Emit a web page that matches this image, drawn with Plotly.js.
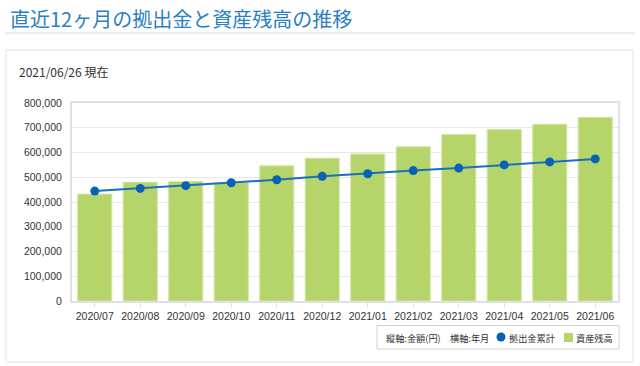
<!DOCTYPE html>
<html><head><meta charset="utf-8">
<script src="https://cdn.plot.ly/plotly-3.0.1.min.js"></script>
<style>html,body{margin:0;padding:0;background:#fff}#c{width:640px;height:366px}</style>
</head><body><div id="c"></div>
<script>
const months = ["2020/07","2020/08","2020/09","2020/10","2020/11","2020/12","2021/01","2021/02","2021/03","2021/04","2021/05","2021/06"];
const assetBalance = [432000,480000,483000,479000,546000,577000,594000,623000,673000,693000,714000,742000];
const contributionTotal = [444000,455000,466000,478000,490000,504000,514000,527000,537000,550000,562000,574000];
const yTicks = [0,100000,200000,300000,400000,500000,600000,700000,800000];
const titleText = "直近12ヶ月の拠出金と資産残高の推移";
const dateText = "2021/06/26 現在";
const axisNoteY = "縦軸:金額(円)";
const axisNoteX = "横軸:年月";
const lineName = "拠出金累計";
const barName = "資産残高";

const jp = '"Noto Sans CJK JP", "Liberation Sans", sans-serif';
const num = '"Liberation Sans", Arial, sans-serif';
const lineColor = '#1a6fbf', markerColor = '#0a62b4', barColor = '#b5d46a';

// plot area in pixels
const L = 72, R = 618, T = 103, B = 301;
const px = X => (X - L) / (R - L);
const py = Y => (B - Y) / (B - T);

const traces = [
  {type:'bar', name:barName, x:months, y:assetBalance,
   marker:{color:barColor, line:{color:'#d3e6a6', width:1}}},
  {type:'scatter', mode:'lines+markers', name:lineName, x:months, y:contributionTotal,
   line:{color:lineColor, width:2}, marker:{color:markerColor, size:9}}
];
const legendFont = {family:jp, size:9.2, color:'#333'};
const layout = {
  width:640, height:366,
  margin:{l:L, r:640-R, t:T, b:366-B},
  paper_bgcolor:'#fff', plot_bgcolor:'#fff',
  bargap:0.25,
  showlegend:false,
  xaxis:{type:'category', range:[-0.5, months.length-0.5], tickfont:{family:num, size:10.5, color:'#333'}, automargin:false,
         showline:true, linecolor:'#e0e0e0', linewidth:2, mirror:true, ticks:'outside', ticklen:4, tickcolor:'#ddd',
         showgrid:false},
  yaxis:{range:[0,800000], tickvals:yTicks, tickformat:',d', tickfont:{family:num, size:10.5, color:'#333'}, automargin:false,
         gridcolor:'#e8e8e8', gridwidth:1, showline:true, linecolor:'#e0e0e0', linewidth:2, mirror:true, zeroline:false, ticks:'', ticklabelstandoff:6},
  annotations:[
    {text:titleText, xref:'paper', yref:'paper', x:px(8), xanchor:'left', y:py(18), yanchor:'middle', showarrow:false,
     font:{family:jp, size:20, color:'#2a80c4'}},
    {text:dateText, xref:'paper', yref:'paper', x:px(17), xanchor:'left', y:py(71), yanchor:'middle', showarrow:false,
     font:{family:jp, size:12, color:'#333'}},
    {text:axisNoteY, xref:'paper', yref:'paper', x:px(384), xanchor:'left', y:py(337.5), yanchor:'middle', showarrow:false, font:legendFont},
    {text:axisNoteX, xref:'paper', yref:'paper', x:px(448), xanchor:'left', y:py(337.5), yanchor:'middle', showarrow:false, font:legendFont},
    {text:lineName, xref:'paper', yref:'paper', x:px(507), xanchor:'left', y:py(337.5), yanchor:'middle', showarrow:false, font:legendFont},
    {text:barName, xref:'paper', yref:'paper', x:px(574), xanchor:'left', y:py(337.5), yanchor:'middle', showarrow:false, font:legendFont}
  ],
  shapes:[
    {type:'line', xref:'paper', yref:'paper', x0:px(5), x1:px(635), y0:py(33), y1:py(33), line:{color:'#d9d9d9', width:1}},
    {type:'rect', xref:'paper', yref:'paper', x0:px(6), x1:px(633), y0:py(362), y1:py(50), line:{color:'#e3e3e3', width:1}, layer:'below'},
    {type:'rect', xref:'paper', yref:'paper', x0:px(377), x1:px(619), y0:py(349), y1:py(325.5), line:{color:'#d0d0d0', width:1}, fillcolor:'#fff'},
    {type:'circle', xref:'paper', yref:'paper', x0:px(496.5), x1:px(505.5), y0:py(341.5), y1:py(332.5), line:{width:0}, fillcolor:markerColor},
    {type:'rect', xref:'paper', yref:'paper', x0:px(564), x1:px(573), y0:py(342), y1:py(333), line:{width:0}, fillcolor:barColor}
  ]
};
Plotly.newPlot('c', traces, layout, {displayModeBar:false, staticPlot:true});
</script></body></html>
